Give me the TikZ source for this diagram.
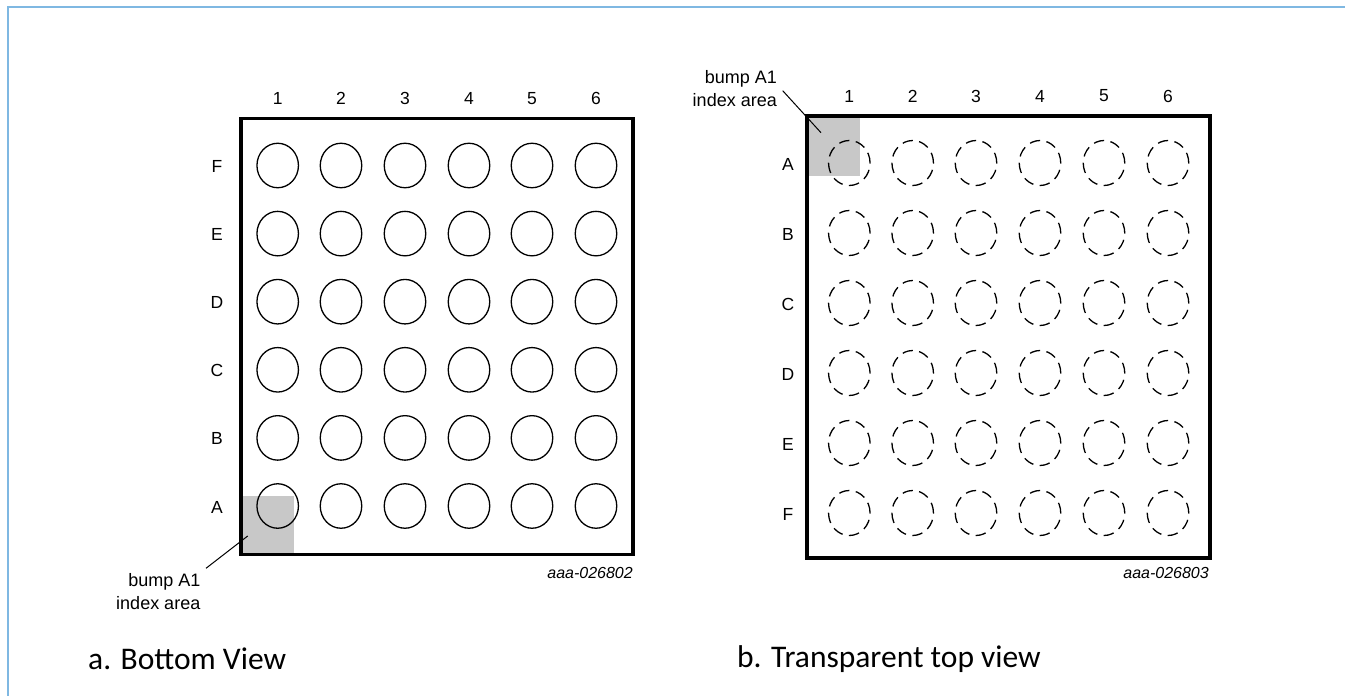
\documentclass[tikz,border=0pt]{standalone}
\usepackage{fontspec}
\usetikzlibrary{shapes.geometric}
\setmainfont{Liberation Sans}
\newfontfamily\capfont{Carlito}
\definecolor{frameblue}{HTML}{7FB8E2}
\definecolor{idxgray}{HTML}{C8C8C8}
\tikzset{
  x=1pt,y=-1pt,
  pkg/.style={draw=black,line width=3.2pt,miter limit=10},
  bumpbase/.style={ellipse,minimum width=41.5pt,inner sep=0pt,outer sep=0pt},
  bump/.style={bumpbase,minimum height=44.5pt,draw=black,line width=1.3pt},
  dbump/.style={bumpbase,minimum height=45pt,draw=black,line width=1.3pt,dash pattern=on 10.5pt off 6.4pt},
  lbl/.style={font=\fontsize{17.5}{20}\selectfont,inner sep=0pt,text=black},
  small/.style={font=\fontsize{18}{23}\selectfont,inner sep=0pt,align=right,anchor=east,text=black},
  code/.style={font=\fontsize{16}{18}\selectfont\itshape,inner sep=0pt,anchor=base east,text=black},
  capt/.style={font=\capfont\fontsize{31.5}{34}\selectfont,inner sep=0pt,anchor=base west,text=black},
  leader/.style={draw=black,line width=1pt},
}
\begin{document}
\begin{tikzpicture}
\useasboundingbox (0,0) rectangle (1345,696);
\fill[white] (0,0) rectangle (1345,696);
\draw[frameblue,line width=2.2pt] (8,696) -- (8,7) -- (1345,7);
% left
\fill[idxgray] (241,496) rectangle (294,555);
\draw[pkg] (241,118.5) rectangle (633,554.5);
\foreach \c/\x in {1/277.7,2/341,3/405,4/469,5/532,6/596}
  \node[lbl] (lc\c) at (\x,98.5) {\c};
\foreach \r/\y in {F/165.5,E/233.6,D/301.7,C/369.8,B/437.9,A/506}{
  \node[lbl] (lr\r) at (217,\y+1) {\r};
  \foreach \c/\x in {1/277.7,2/341,3/405,4/469,5/532,6/596}
    \node[bump] (l\r\c) at (\x,\y) {};
}
\node[small] (lidx) at (200.5,592) {bump A1\\index area};
\coordinate (lfree) at (247.7,536);
\coordinate (lstart) at (206,568.3);
\draw[leader] (lstart) -- (lfree);
\node[code] (lcode) at (633,578) {aaa-026802};
\node[capt] (lcap) at (88,669) {a. Bottom View};
% right
\fill[idxgray] (807,116) rectangle (860,176);
\draw[pkg] (807,116) rectangle (1210,558);
\foreach \c/\x in {1/849.3,2/912.7,3/976,4/1040,5/1104,6/1168}
  \node[lbl] (rc\c) at (\x,96) {\c};
\foreach \r/\y in {A/163,B/233,C/303,D/373,E/443,F/513}{
  \node[lbl] (rr\r) at (788,\y+1) {\r};
  \foreach \c/\x in {1/849.3,2/912.7,3/976,4/1040,5/1104,6/1168}
    \node[dbump] (r\r\c) at (\x,\y) {};
}
\node[small] (ridx) at (777,89) {bump A1\\index area};
\coordinate (rfree) at (821,132.7);
\coordinate (rstart) at (782.7,90.7);
\draw[leader] (rstart) -- (rfree);
\node[code] (rcode) at (1209,578) {aaa-026803};
\node[capt] (rcap) at (737,667) {b. Transparent top view};
\end{tikzpicture}
\end{document}
